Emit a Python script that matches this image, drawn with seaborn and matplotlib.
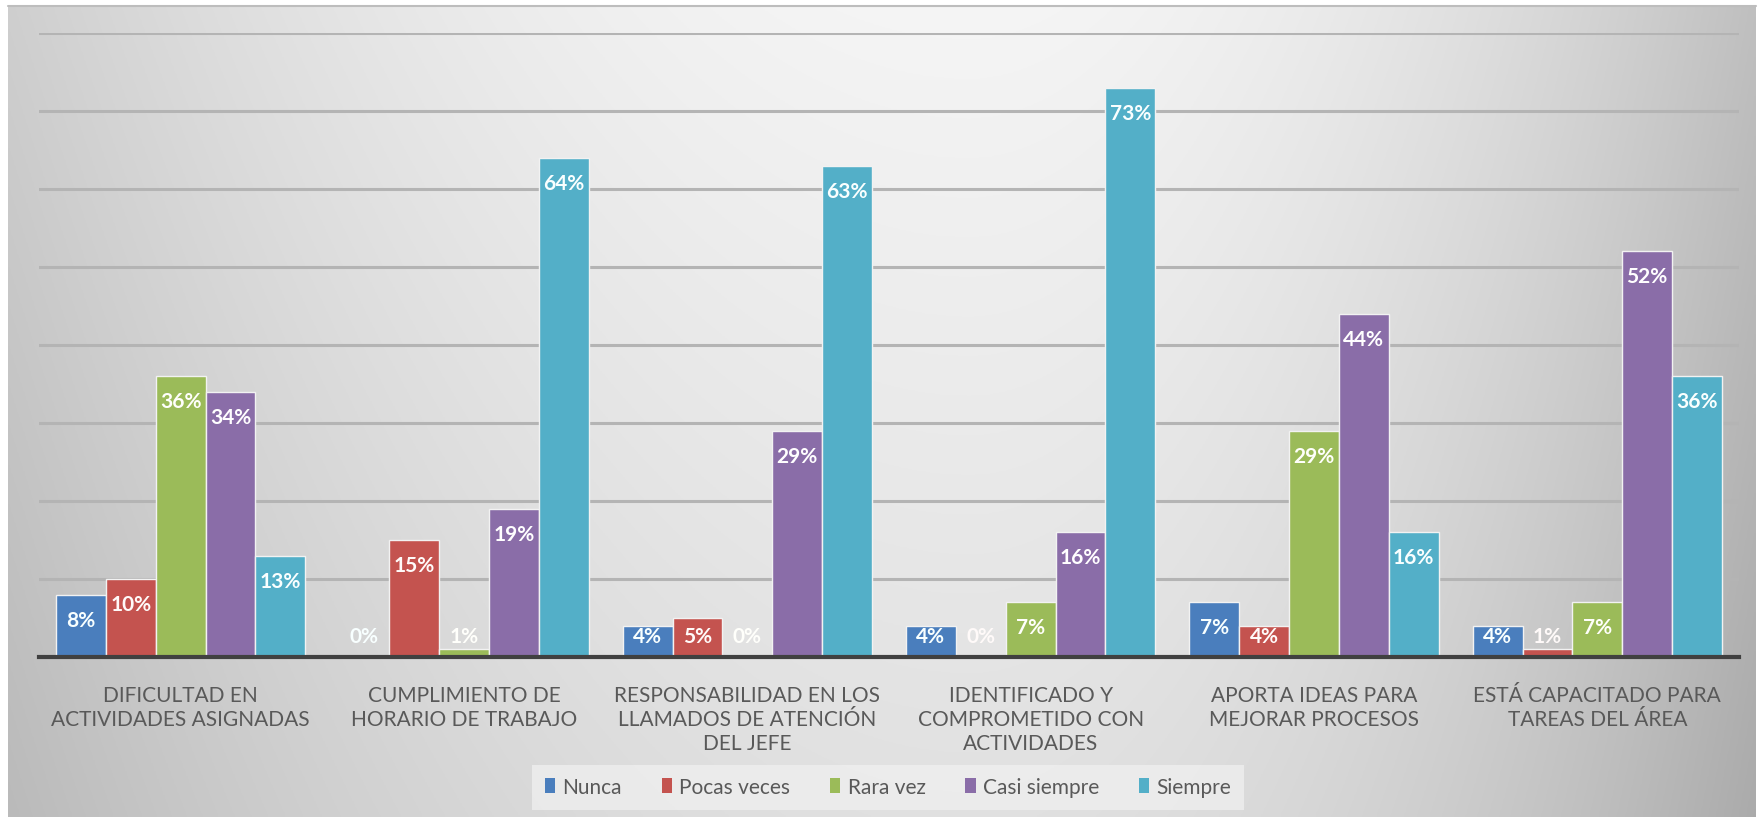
import numpy as np
import pandas as pd
import matplotlib
matplotlib.use("Agg")
import matplotlib.pyplot as plt
from matplotlib.patches import Patch
from matplotlib.colors import to_rgb
import seaborn as sns

# Survey items (x-axis categories) and answer frequencies in percent
categories = [
    "DIFICULTAD EN\nACTIVIDADES ASIGNADAS",
    "CUMPLIMIENTO DE\nHORARIO DE TRABAJO",
    "RESPONSABILIDAD EN LOS\nLLAMADOS DE ATENCIÓN\nDEL JEFE",
    "IDENTIFICADO Y\nCOMPROMETIDO CON\nACTIVIDADES",
    "APORTA IDEAS PARA\nMEJORAR PROCESOS",
    "ESTÁ CAPACITADO PARA\nTAREAS DEL ÁREA",
]
series = ["Nunca", "Pocas veces", "Rara vez", "Casi siempre", "Siempre"]
nunca = [8, 0, 4, 4, 7, 4]
pocas_veces = [10, 15, 5, 0, 4, 1]
rara_vez = [36, 1, 0, 7, 29, 7]
casi_siempre = [34, 19, 29, 16, 44, 52]
siempre = [13, 64, 63, 73, 16, 36]
colors = ["#4A7EBD", "#C4534F", "#9BBB59", "#8A6DA8", "#53AFC8"]

values = [nunca, pocas_veces, rara_vez, casi_siempre, siempre]
df = pd.DataFrame(
    [(c, s, v) for s, vals in zip(series, values) for c, v in zip(categories, vals)],
    columns=["categoria", "respuesta", "porcentaje"],
)

sns.set_theme(style="white")
plt.rcParams["font.family"] = ["Lato", "DejaVu Sans"]

W, H = 1764, 820
fig = plt.figure(figsize=(W / 100, H / 100), dpi=100)
fig.patch.set_facecolor("white")

# soft grey gradient panel behind the chart
bg = fig.add_axes([0, 0, 1, 1], zorder=-10)
bg.set_axis_off()
gx = np.linspace(0, 1, 600)
gy = np.linspace(0, 1, 300)
X, Y = np.meshgrid(gx, gy)
dx = np.where(X < 0.55, (X - 0.55) / 0.55, (X - 0.55) / 0.45)
shade = 0.96 - np.where(X < 0.55, 0.15, 0.21) * dx ** 2 - 0.08 * Y
img = np.dstack([shade, shade, shade])
x0, x1 = 8 / W, 1756 / W
y0, y1 = 1 - 818 / H, 1 - 7 / H
bg.imshow(img, extent=[x0, x1, y0, y1], aspect="auto", origin="upper")
bg.set_xlim(0, 1)
bg.set_ylim(0, 1)
bg.plot([x0, x1], [y1, y1], color="#bdbdbd", lw=1.5)

# plotting area
left, right = 39 / W, 1739 / W
bottom, top = 1 - 658 / H, 1 - 34 / H
ax = fig.add_axes([left, bottom, right - left, top - bottom])
ax.set_facecolor("none")

sns.barplot(
    data=df, x="categoria", y="porcentaje", hue="respuesta",
    hue_order=series, palette=colors, width=0.88, ax=ax,
    edgecolor="#f2f2f2", linewidth=1.0, saturation=1, legend=False,
)

ax.set_ylim(0, 80)
ax.set_xlim(-0.5, 5.5)
ax.set_yticks(np.arange(0, 81, 10))
ax.yaxis.grid(True, color="#b4b4b4", linewidth=2.2)
ax.set_axisbelow(True)
ax.tick_params(axis="y", left=False, labelleft=False)
ax.tick_params(axis="x", bottom=False, pad=14, labelsize=15, labelcolor="#595959")
for t in ax.get_xticklabels():
    t.set_linespacing(1.25)
ax.set_xlabel("")
ax.set_ylabel("")
for side in ["left", "right", "top"]:
    ax.spines[side].set_visible(False)
ax.spines["bottom"].set_color("#404040")
ax.spines["bottom"].set_linewidth(3)

# value labels inside the top of each bar, lightly tinted with the bar colour
for container, vals, col in zip(ax.containers, values, colors):
    tint = 0.82 * np.ones(3) + 0.18 * np.array(to_rgb(col))
    tint = np.clip(tint + 0.1, 0, 1)
    for patch, v in zip(container.patches, vals):
        xc = patch.get_x() + patch.get_width() / 2
        ax.text(xc, max(v - 3.2, 2.7), f"{v}%", ha="center", va="center",
                color=tint, fontsize=15, fontweight="bold", zorder=5)

handles = [Patch(facecolor=c, edgecolor="none") for c in colors]
leg = fig.legend(
    handles, series, loc="center", bbox_to_anchor=(888 / W, 1 - 788 / H),
    ncol=5, frameon=True, fontsize=15, handlelength=0.5, handleheight=0.7,
    handletextpad=0.35, columnspacing=1.9, borderpad=0.6,
)
leg.get_frame().set_facecolor("#f0f0f0")
leg.get_frame().set_alpha(0.75)
leg.get_frame().set_edgecolor("none")
leg.get_frame().set_boxstyle("square", pad=0)
for t in leg.get_texts():
    t.set_color("#595959")

fig.savefig("out.png", dpi=100)
